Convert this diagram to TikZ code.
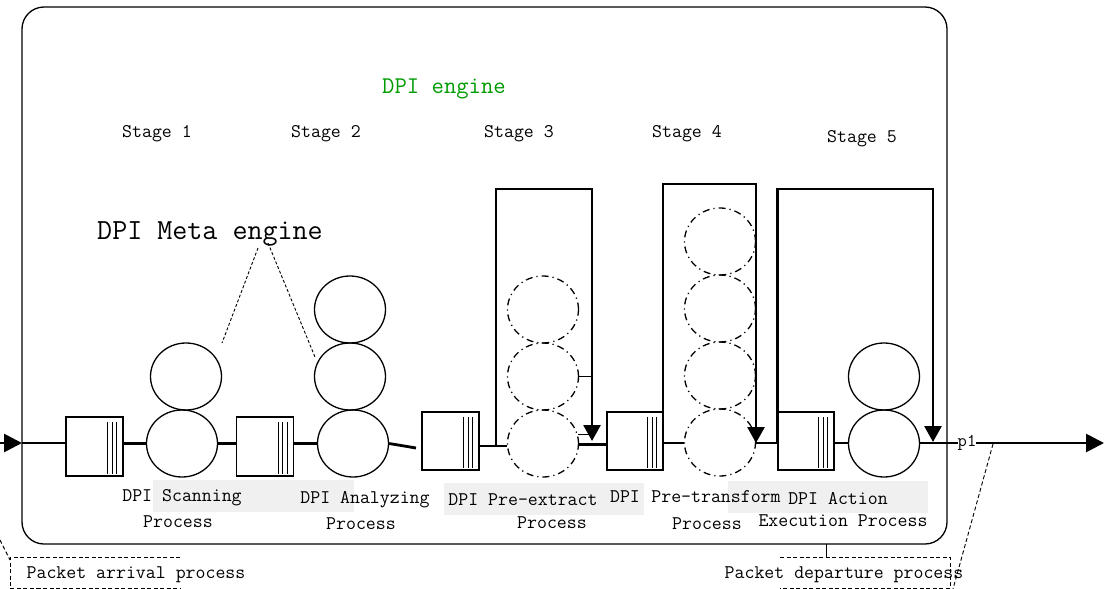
\documentclass[tikz,border=0pt]{standalone}
\usetikzlibrary{shapes.geometric,arrows.meta,calc}
\definecolor{dpigreen}{RGB}{0,155,0}
\definecolor{lblgray}{RGB}{240,240,240}
\begin{document}
\begin{tikzpicture}[x=1pt,y=-1pt,
  circ/.style={ellipse, draw, line width=1.3pt, minimum width=71pt, minimum height=67pt, inner sep=0pt},
  dcirc/.style={circ, dash pattern=on 7pt off 4pt on 1.2pt off 4pt},
  queue/.style={rectangle, draw, line width=1.3pt, minimum width=57pt, minimum height=59pt, inner sep=0pt},
  flow/.style={line width=2.8pt},
  tip/.style={-{Triangle[length=16pt,width=17pt]}},
  lbl/.style={font=\fontsize{19.3}{22}\selectfont\ttfamily, inner sep=0pt},
  pdash/.style={line width=0.9pt, dash pattern=on 4pt off 2.5pt},
  gbox/.style={fill=lblgray, draw=none}]
\useasboundingbox (0,0) rectangle (1104,589);
% outer engine box
\draw[line width=1.3pt, rounded corners=22pt] (22,7) rectangle (947,544);
% gray label backgrounds
\fill[lblgray] (153,480) rectangle (354,512);
\fill[lblgray] (444,483) rectangle (644,515);
\fill[lblgray] (728,481) rectangle (928,513);
% titles
\node[font=\fontsize{24}{27}\selectfont\ttfamily, text=dpigreen, inner sep=0pt] (title) at (444,89) {DPI engine};
\node[lbl] (st1) at (157,134) {Stage 1};
\node[lbl] (st2) at (326,134) {Stage 2};
\node[lbl] (st3) at (519,134) {Stage 3};
\node[lbl] (st4) at (687,134) {Stage 4};
\node[lbl] (st5) at (862,139) {Stage 5};
\node[font=\fontsize{29.2}{32}\selectfont\ttfamily, inner sep=0pt] (meta) at (210,234) {DPI Meta engine};
% queues
\node[queue] (q1) at (94.5,446.5) {};
\node[queue] (q2) at (265,446.5) {};
\node[queue, minimum height=58pt] (q3) at (450.5,441) {};
\node[queue, minimum height=58pt, minimum width=56pt] (q4) at (635,441) {};
\node[queue, minimum height=58pt, minimum width=56pt] (q5) at (806,441) {};
\foreach \q in {q1,q2,q3,q4,q5}{
  \foreach \dx in {-16,-11.5,-7}{
    \draw[line width=1.2pt] ($(\q.north east)+(\dx,6)$) -- ($(\q.south east)+(\dx,-3)$);
  }
}
% process circles
\node[circ] (s1t) at (186,376.5) {};
\node[circ] (s1b) at (182,443.5) {};
\node[circ] (s2t) at (350,309.5) {};
\node[circ] (s2m) at (350,376.5) {};
\node[circ] (s2b) at (353,443.5) {};
\node[dcirc] (s3a) at (543,309.5) {};
\node[dcirc] (s3b) at (543,376.5) {};
\node[dcirc] (s3c) at (543,443.5) {};
\node[dcirc] (s4a) at (720,241.5) {};
\node[dcirc] (s4b) at (720,308.5) {};
\node[dcirc] (s4c) at (720,375.5) {};
\node[dcirc] (s4d) at (720,442.5) {};
\node[circ] (s5t) at (884,376.5) {};
\node[circ] (s5b) at (884,443.5) {};
% main flow
\coordinate (in0) at (0,443);
\coordinate (inT) at (22,443);
\draw[flow, -{Triangle[length=18pt,width=18pt]}] (in0) -- (inT);
\draw[flow] (inT) -- (inT -| q1.west);
\draw[flow] (q1.east |- s1b) -- (s1b.west);
\draw[flow] (s1b.east) -- (s1b.east -| q2.west);
\draw[flow] (q2.east |- s2b) -- (s2b.west);
\draw[flow] (s2b.east) -- (416,448);
\coordinate (b3) at (496,446);
\draw[flow] (q3.east |- b3) -- (b3) -- (s3c.west |- b3);
\draw[flow] (b3) -- (496,189) -- (592,189) -- (592,425);
\coordinate (a3) at (592,441);
\draw[flow, tip] (592,420) -- (a3);
\draw[flow] (s3c.east |- 0,444.5) -- (q4.west |- 0,444.5);
\draw[line width=0.7pt] (s3b.east) -- ++(14,0);
\draw[line width=0.7pt] (578,434) -- (592,434);
\coordinate (b4) at (663,443);
\draw[flow] (q4.east |- b4) -- (s4d.west |- b4);
\draw[flow] (b4) -- (663,184) -- (756,184) -- (756,425);
\coordinate (a4) at (756,443);
\draw[flow, tip] (756,420) -- (a4);
\draw[flow] (s4d.east |- b4) -- (q5.west |- b4);
\coordinate (b5) at (777.5,443);
\draw[flow] (q5.east |- b5) -- (s5b.west |- b5);
\draw[flow] (b5) -- (777.5,189) -- (933,189) -- (933,425);
\coordinate (a5) at (933,442);
\draw[flow, tip] (933,420) -- (a5);
\node[font=\fontsize{18}{20}\selectfont\ttfamily, inner sep=0pt] (p1) at (967,443) {p1};
\draw[flow] (s5b.east |- b5) -- (p1.west);
\coordinate (out) at (1104,443);
\draw[flow, -{Triangle[length=18pt,width=18pt]}] (p1.east) -- (out);
% process labels
\node[lbl] (l1a) at (182,498) {DPI Scanning};
\node[lbl] (l1b) at (178,522) {Process};
\node[lbl] (l2a) at (365,500) {DPI Analyzing};
\node[lbl] (l2b) at (361,524) {Process};
\node[lbl] (l3a) at (523,500) {DPI Pre-extract};
\node[lbl] (l3b) at (552,523) {Process};
\node[lbl] (l4x) at (625,497) {DPI};
\node[lbl] (l4a) at (716,497) {Pre-transform};
\node[lbl] (l4b) at (707,524) {Process};
\node[lbl] (l5a) at (838,499) {DPI Action};
\node[lbl] (l5b) at (843,521) {Execution Process};
% meta engine leaders
\coordinate (m1) at (258,248);
\coordinate (m2) at (268,243);
\coordinate (m1e) at (222,343);
\coordinate (m2e) at (315,357);
\draw[line width=0.9pt, dash pattern=on 3pt off 2pt] (m1) -- (m1e);
\draw[line width=0.9pt, dash pattern=on 3pt off 2pt] (m2) -- (m2e);
% packet arrival
\node[lbl] (arr) at (136,575) {Packet arrival process};
\draw[pdash] (180,557) -- (10,557) -- (10,588) -- (180,588);
\draw[pdash] (0,540) -- (10,560);
% packet departure
\node[lbl] (dep) at (844,575) {Packet departure process};
\draw[line width=0.7pt] (826,544) -- (826,557);
\draw[pdash] (780,557) -- (950,557) -- (950,588) -- (780,588);
\draw[pdash] (993,444) -- (953,589);
\end{tikzpicture}
\end{document}
